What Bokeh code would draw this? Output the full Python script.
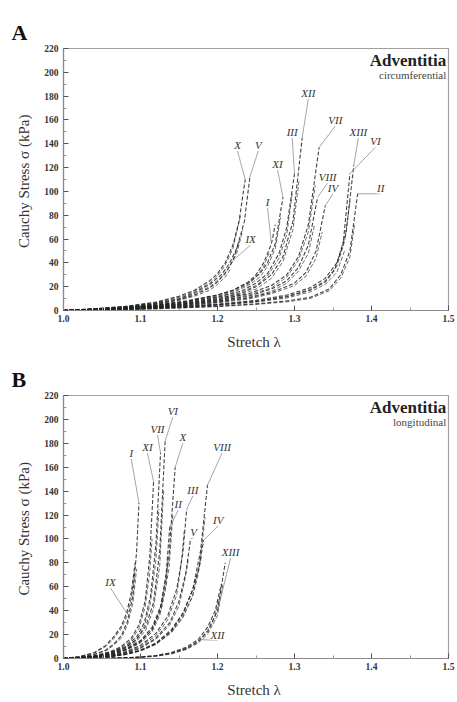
from bokeh.plotting import figure
from bokeh.layouts import column
from bokeh.models import Label, FixedTicker, Range1d, PrintfTickFormatter
from bokeh.embed import file_html
from bokeh.resources import INLINE

# ---------------- Panel A: circumferential ----------------
circ_names = ["I", "II", "III", "IV", "V", "VI", "VII", "VIII", "IX", "X", "XI", "XII", "XIII"]
# first test cycle of each specimen
circ_stretch = [
    [1.0, 1.04, 1.08, 1.12, 1.16, 1.2, 1.22, 1.24, 1.25, 1.26, 1.27, 1.275],
    [1.0, 1.04, 1.08, 1.12, 1.16, 1.2, 1.25, 1.29, 1.32, 1.345, 1.36, 1.372, 1.382],
    [1.0, 1.04, 1.08, 1.12, 1.16, 1.2, 1.23, 1.25, 1.265, 1.28, 1.29, 1.3],
    [1.0, 1.04, 1.08, 1.12, 1.16, 1.2, 1.24, 1.27, 1.3, 1.315, 1.328, 1.34],
    [1.0, 1.04, 1.08, 1.12, 1.15, 1.17, 1.19, 1.205, 1.215, 1.225, 1.235, 1.242],
    [1.0, 1.04, 1.08, 1.12, 1.16, 1.2, 1.25, 1.29, 1.32, 1.34, 1.352, 1.363, 1.372],
    [1.0, 1.04, 1.08, 1.12, 1.16, 1.2, 1.24, 1.27, 1.29, 1.305, 1.318, 1.332],
    [1.0, 1.04, 1.08, 1.12, 1.16, 1.2, 1.24, 1.27, 1.29, 1.305, 1.318, 1.33],
    [1.0, 1.04, 1.08, 1.12, 1.15, 1.17, 1.19, 1.2, 1.21, 1.22, 1.228],
    [1.0, 1.04, 1.08, 1.12, 1.15, 1.17, 1.19, 1.2, 1.21, 1.22, 1.228, 1.236],
    [1.0, 1.04, 1.08, 1.12, 1.16, 1.2, 1.22, 1.24, 1.255, 1.265, 1.275, 1.285],
    [1.0, 1.04, 1.08, 1.12, 1.16, 1.2, 1.23, 1.25, 1.27, 1.285, 1.298, 1.31],
    [1.0, 1.04, 1.08, 1.12, 1.16, 1.2, 1.25, 1.29, 1.32, 1.34, 1.355, 1.367, 1.377],
]
circ_stress = [
    [0, 1, 2.3, 4.5, 8, 13, 17, 24, 30, 40, 56, 72],
    [0, 0.4, 0.9, 1.6, 2.5, 3.6, 5.6, 8, 11, 18, 30, 50, 98],
    [0, 0.9, 2, 4, 7, 11, 16, 23, 31, 48, 70, 115],
    [0, 0.6, 1.4, 2.6, 4.3, 7, 10.5, 15, 23, 32, 50, 88],
    [0, 1.3, 3, 6, 10, 15, 22, 30, 39, 52, 75, 112],
    [0, 0.5, 1.1, 2, 3.2, 4.8, 7.6, 11.5, 17, 24, 34, 55, 115],
    [0, 0.8, 1.8, 3.4, 5.8, 9, 14, 21, 30, 45, 72, 137],
    [0, 0.7, 1.6, 3, 5, 8, 12, 18, 25, 36, 55, 95],
    [0, 1.2, 2.8, 5.5, 9, 13, 19, 24, 31, 42, 58],
    [0, 1.5, 3.5, 7, 12, 17, 25, 31, 40, 55, 75, 110],
    [0, 1, 2.3, 4.5, 8, 13, 17, 23, 31, 40, 56, 95],
    [0, 0.8, 1.8, 3.5, 6, 10, 14, 20, 30, 45, 75, 145],
    [0, 0.6, 1.3, 2.3, 3.6, 5.3, 8.5, 13, 19, 27, 40, 65, 122],
]
# second test cycle of each specimen
circ_stretch_2 = [
    [1.0, 1.04, 1.08, 1.12, 1.16, 1.2, 1.22, 1.24, 1.25, 1.26, 1.268],
    [1.0, 1.04, 1.08, 1.12, 1.16, 1.2, 1.25, 1.29, 1.32, 1.345, 1.36, 1.372, 1.378],
    [1.0, 1.04, 1.08, 1.12, 1.16, 1.2, 1.23, 1.25, 1.265, 1.28, 1.29, 1.297],
    [1.0, 1.04, 1.08, 1.12, 1.16, 1.2, 1.24, 1.27, 1.3, 1.315, 1.328, 1.336],
    [1.0, 1.04, 1.08, 1.12, 1.15, 1.17, 1.19, 1.205, 1.215, 1.225, 1.233],
    [1.0, 1.04, 1.08, 1.12, 1.16, 1.2, 1.25, 1.29, 1.32, 1.34, 1.355, 1.365],
    [1.0, 1.04, 1.08, 1.12, 1.16, 1.2, 1.24, 1.27, 1.29, 1.305, 1.318, 1.327],
    [1.0, 1.04, 1.08, 1.12, 1.16, 1.2, 1.24, 1.27, 1.29, 1.305, 1.318, 1.326],
    [1.0, 1.04, 1.08, 1.12, 1.15, 1.17, 1.19, 1.2, 1.21, 1.218],
    [1.0, 1.04, 1.08, 1.12, 1.15, 1.17, 1.19, 1.2, 1.21, 1.22, 1.23],
    [1.0, 1.04, 1.08, 1.12, 1.16, 1.2, 1.22, 1.24, 1.255, 1.265, 1.275, 1.282],
    [1.0, 1.04, 1.08, 1.12, 1.16, 1.2, 1.23, 1.25, 1.27, 1.285, 1.298, 1.306],
    [1.0, 1.04, 1.08, 1.12, 1.16, 1.2, 1.25, 1.29, 1.32, 1.34, 1.355, 1.365, 1.372],
]
circ_stress_2 = [
    [0, 0.9, 2.1, 4.2, 7.5, 12, 16, 22, 28, 37, 50],
    [0, 0.35, 0.8, 1.4, 2.3, 3.3, 5.1, 7.3, 10, 16.5, 27, 45, 72],
    [0, 0.8, 1.8, 3.6, 6.5, 10, 15, 21, 29, 44, 64, 98],
    [0, 0.5, 1.2, 2.3, 4, 6.4, 9.6, 14, 21, 29, 44, 66],
    [0, 1.2, 2.8, 5.5, 9.5, 14, 20, 28, 36, 48, 68],
    [0, 0.45, 1, 1.8, 2.9, 4.4, 7, 10.5, 15.5, 22, 32, 50],
    [0, 0.7, 1.6, 3.1, 5.3, 8.3, 13, 19, 28, 42, 66, 105],
    [0, 0.6, 1.4, 2.7, 4.6, 7.4, 11, 16, 23, 33, 48, 72],
    [0, 1.1, 2.6, 5, 8.5, 12, 17, 22, 28, 36],
    [0, 1.4, 3.2, 6.5, 11, 16, 23, 29, 38, 52, 80],
    [0, 0.9, 2, 4, 7, 11.5, 15, 21, 28, 37, 52, 78],
    [0, 0.7, 1.6, 3.2, 5.5, 9, 13, 18, 27, 41, 68, 110],
    [0, 0.5, 1.2, 2.1, 3.3, 4.9, 7.8, 12, 17.5, 25, 37, 58, 92],
]
circ_label_x = [1.265, 1.412, 1.297, 1.350, 1.253, 1.405, 1.353, 1.343, 1.243, 1.226, 1.278, 1.318, 1.383]
circ_label_y = [86, 98, 145, 98, 134, 137, 155, 107, 55, 134, 118, 178, 145]
circ_leader_idx = [10, 12, 11, 11, 11, 12, 11, 11, 9, 11, 11, 11, 12]

# ---------------- Panel B: longitudinal ----------------
long_names = ["I", "II", "III", "IV", "V", "VI", "VII", "VIII", "IX", "X", "XI", "XII", "XIII"]
long_stretch = [
    [1.0, 1.02, 1.04, 1.055, 1.065, 1.075, 1.083, 1.09, 1.095, 1.098],
    [1.0, 1.02, 1.04, 1.06, 1.08, 1.1, 1.115, 1.125, 1.133, 1.138],
    [1.0, 1.02, 1.04, 1.06, 1.08, 1.1, 1.12, 1.135, 1.147, 1.155, 1.16],
    [1.0, 1.02, 1.04, 1.06, 1.08, 1.1, 1.12, 1.14, 1.155, 1.167, 1.176, 1.182],
    [1.0, 1.02, 1.04, 1.06, 1.08, 1.1, 1.12, 1.138, 1.15, 1.159, 1.165],
    [1.0, 1.02, 1.04, 1.06, 1.08, 1.095, 1.107, 1.117, 1.125, 1.132],
    [1.0, 1.02, 1.04, 1.06, 1.08, 1.095, 1.105, 1.113, 1.12, 1.126],
    [1.0, 1.02, 1.04, 1.06, 1.08, 1.1, 1.12, 1.14, 1.155, 1.168, 1.178, 1.187],
    [1.0, 1.02, 1.04, 1.055, 1.065, 1.075, 1.082, 1.088, 1.093],
    [1.0, 1.02, 1.04, 1.06, 1.08, 1.1, 1.115, 1.127, 1.137, 1.145],
    [1.0, 1.02, 1.04, 1.06, 1.075, 1.088, 1.098, 1.106, 1.112, 1.117],
    [1.0, 1.04, 1.08, 1.1, 1.12, 1.14, 1.16, 1.175, 1.187, 1.197, 1.205],
    [1.0, 1.04, 1.08, 1.1, 1.12, 1.14, 1.16, 1.175, 1.188, 1.2, 1.21],
]
long_stress = [
    [0, 1.2, 3.5, 7, 12, 19, 31, 52, 90, 130],
    [0, 0.5, 1.4, 3.3, 7, 14, 24, 40, 68, 110],
    [0, 0.4, 1.1, 2.6, 5.5, 11, 21, 35, 58, 88, 125],
    [0, 0.25, 0.7, 1.7, 3.6, 7, 13, 24, 38, 56, 76, 99],
    [0, 0.3, 0.9, 2.2, 4.6, 9, 17, 30, 48, 72, 100],
    [0, 0.6, 1.8, 4.3, 9, 16, 27, 47, 90, 182],
    [0, 0.7, 2, 4.8, 10, 18, 30, 52, 95, 172],
    [0, 0.25, 0.7, 1.6, 3.4, 6.7, 12.5, 23, 37, 58, 90, 145],
    [0, 1.5, 5, 11, 18, 27, 38, 55, 80],
    [0, 0.5, 1.5, 3.6, 7.5, 15, 26, 45, 85, 160],
    [0, 0.8, 2.3, 5.5, 10, 17, 28, 48, 85, 148],
    [0, 0.2, 0.7, 1.3, 2.5, 5, 9.5, 16, 26, 40, 62],
    [0, 0.15, 0.6, 1.1, 2.1, 4.2, 8.3, 14, 23, 40, 80],
]
long_stretch_2 = [
    [1.0, 1.02, 1.04, 1.055, 1.065, 1.075, 1.083, 1.09, 1.095],
    [1.0, 1.02, 1.04, 1.06, 1.08, 1.1, 1.115, 1.125, 1.133, 1.136],
    [1.0, 1.02, 1.04, 1.06, 1.08, 1.1, 1.12, 1.135, 1.147, 1.153, 1.157],
    [1.0, 1.02, 1.04, 1.06, 1.08, 1.1, 1.12, 1.14, 1.155, 1.167, 1.174, 1.179],
    [1.0, 1.02, 1.04, 1.06, 1.08, 1.1, 1.12, 1.138, 1.15, 1.157, 1.162],
    [1.0, 1.02, 1.04, 1.06, 1.08, 1.095, 1.107, 1.117, 1.125, 1.13],
    [1.0, 1.02, 1.04, 1.06, 1.08, 1.095, 1.105, 1.113, 1.12, 1.124],
    [1.0, 1.02, 1.04, 1.06, 1.08, 1.1, 1.12, 1.14, 1.155, 1.168, 1.177, 1.184],
    [1.0, 1.02, 1.04, 1.055, 1.065, 1.075, 1.082, 1.088, 1.092],
    [1.0, 1.02, 1.04, 1.06, 1.08, 1.1, 1.115, 1.127, 1.137, 1.142],
    [1.0, 1.02, 1.04, 1.06, 1.075, 1.088, 1.098, 1.106, 1.112, 1.115],
    [1.0, 1.04, 1.08, 1.1, 1.12, 1.14, 1.16, 1.175, 1.187, 1.197, 1.202],
    [1.0, 1.04, 1.08, 1.1, 1.12, 1.14, 1.16, 1.175, 1.188, 1.2, 1.207],
]
long_stress_2 = [
    [0, 1.1, 3.2, 6.4, 11, 17, 28, 46, 75],
    [0, 0.45, 1.3, 3, 6.5, 13, 22, 36, 60, 85],
    [0, 0.35, 1, 2.4, 5, 10, 19, 32, 53, 80, 108],
    [0, 0.22, 0.65, 1.6, 3.3, 6.5, 12, 22, 35, 51, 68, 85],
    [0, 0.28, 0.85, 2, 4.3, 8.4, 16, 28, 44, 64, 82],
    [0, 0.55, 1.6, 3.9, 8.2, 14.5, 24, 42, 78, 140],
    [0, 0.6, 1.8, 4.3, 9, 16, 27, 47, 82, 125],
    [0, 0.22, 0.65, 1.5, 3.2, 6.3, 11.7, 21.5, 34, 53, 80, 118],
    [0, 1.4, 4.6, 10, 16.5, 25, 35, 50, 70],
    [0, 0.45, 1.4, 3.3, 7, 14, 24, 41, 75, 120],
    [0, 0.7, 2.1, 5, 9, 15.5, 25, 43, 72, 100],
    [0, 0.18, 0.6, 1.2, 2.3, 4.5, 8.7, 14.5, 23.5, 36, 50],
    [0, 0.14, 0.55, 1, 1.9, 3.8, 7.6, 13, 21, 36, 62],
]
long_label_x = [1.088, 1.149, 1.168, 1.201, 1.169, 1.142, 1.122, 1.206, 1.061, 1.155, 1.109, 1.200, 1.217]
long_label_y = [167, 124, 136, 111, 101, 202, 187, 172, 59, 180, 172, 15, 84]
long_leader_idx = [9, 9, 10, 11, 10, 9, 9, 11, 6, 9, 9, 7, 9]

x_major = [1.0, 1.1, 1.2, 1.3, 1.4, 1.5]
x_minor = [1.05, 1.15, 1.25, 1.35, 1.45]
y_major = list(range(0, 221, 20))
y_minor = list(range(10, 220, 20))

SERIF = "Liberation Serif"


def make_panel(letter, names, stretch, stress, stretch2, stress2, lab_x, lab_y, lead_idx,
               subtitle, height, top, bottom):
    p = figure(width=457, height=height, x_range=Range1d(1.0, 1.5), y_range=Range1d(0, 220),
               output_backend="svg", toolbar_location=None,
               min_border_left=63, min_border_right=9, min_border_top=top, min_border_bottom=bottom)
    p.grid.visible = False
    p.outline_line_color = "#a0a0a0"
    p.outline_line_width = 1.2
    p.background_fill_color = "white"

    p.title.text = letter
    p.title.align = "left"
    p.title.offset = -52
    p.title.standoff = 8
    p.title.text_font = SERIF
    p.title.text_font_size = "22px"
    p.title.text_font_style = "bold"
    p.title.text_color = "#111111"

    p.xaxis.ticker = FixedTicker(ticks=x_major, minor_ticks=x_minor)
    p.yaxis.ticker = FixedTicker(ticks=y_major, minor_ticks=y_minor)
    p.xaxis.formatter = PrintfTickFormatter(format="%.1f")
    for ax in (p.xaxis[0], p.yaxis[0]):
        ax.axis_line_color = "#8a8a8a"
        ax.axis_line_width = 1.2
        ax.major_tick_in = 5
        ax.major_tick_out = 0
        ax.minor_tick_in = 3
        ax.minor_tick_out = 0
        ax.major_tick_line_color = "#555555"
        ax.minor_tick_line_color = "#999999"
        ax.major_label_text_font = SERIF
        ax.major_label_text_font_size = "9.5px"
        ax.major_label_text_font_style = "bold"
        ax.major_label_text_color = "#333333"
        ax.axis_label_text_font = SERIF
        ax.axis_label_text_font_style = "normal"
        ax.axis_label_text_font_size = "15px"
        ax.axis_label_text_color = "#333333"
    p.xaxis.axis_label = "Stretch  λ"
    p.yaxis.axis_label = "Cauchy Stress σ  (kPa)"
    p.xaxis.major_label_standoff = 4
    p.yaxis.major_label_standoff = 5
    p.xaxis.axis_label_standoff = 9
    p.yaxis.axis_label_standoff = 9

    for lam, sig in zip(stretch2, stress2):
        p.line(lam, sig, line_color="#3a3a3a", line_width=1.0, line_dash="4 2", line_alpha=0.75)
    for lam, sig in zip(stretch, stress):
        p.line(lam, sig, line_color="#222222", line_width=1.1, line_dash="4 2", line_alpha=0.85)

    for i, nm in enumerate(names):
        k = lead_idx[i]
        p.line([lab_x[i], stretch[i][k]], [lab_y[i], stress[i][k]],
               line_color="#808080", line_width=0.7)
        p.add_layout(Label(x=lab_x[i], y=lab_y[i], text=nm, text_font=SERIF,
                           text_font_style="italic", text_font_size="11px",
                           text_color="#333333", text_align="center", text_baseline="bottom",
                           background_fill_color="white", background_fill_alpha=0.85))

    p.add_layout(Label(x=1.497, y=210, text="Adventitia", text_font=SERIF,
                       text_font_style="bold", text_font_size="17px", text_color="#222222",
                       text_align="right", text_baseline="middle"))
    p.add_layout(Label(x=1.497, y=198, text=subtitle, text_font=SERIF,
                       text_font_size="11px", text_color="#444444",
                       text_align="right", text_baseline="middle"))
    return p


pa = make_panel("A", circ_names, circ_stretch, circ_stress, circ_stretch_2, circ_stress_2,
                circ_label_x, circ_label_y, circ_leader_idx, "circumferential", 355, 48, 45)
pb = make_panel("B", long_names, long_stretch, long_stress, long_stretch_2, long_stress_2,
                long_label_x, long_label_y, long_leader_idx, "longitudinal", 347, 40, 44)

layout = column(pa, pb, spacing=0)
open("out.html", "w").write(file_html(layout, INLINE))
